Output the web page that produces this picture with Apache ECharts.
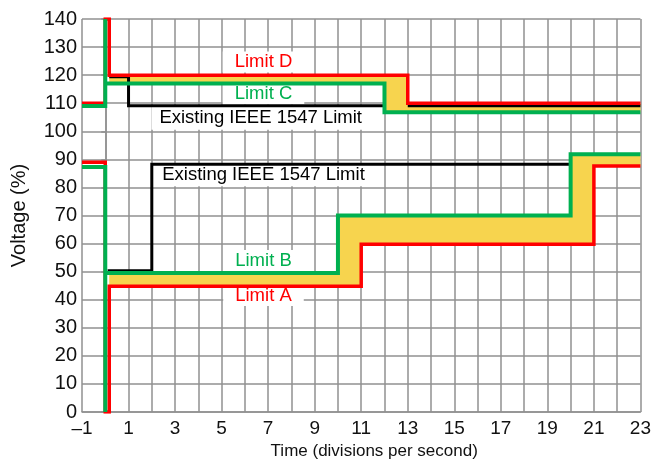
<!DOCTYPE html>
<html>
<head>
<meta charset="utf-8">
<script src="https://cdn.jsdelivr.net/npm/echarts@6/dist/echarts.min.js"></script>
<style>
  html, body { margin: 0; padding: 0; background: #fff; }
  #chart { width: 654px; height: 465px; }
</style>
</head>
<body>
<div id="chart"></div>
<script>
// step outlines, [time, voltage %]
const limitD = [[-1, 110], [0, 110], [0, 140], [0.17, 140], [0.17, 120], [13, 120], [13, 110], [23, 110]];
const limitC = [[-1, 109], [0, 109], [0, 140], [0, 117], [12, 117], [12, 106.8], [23, 106.8]];
const limitA = [[-1, 89], [0, 89], [0, 0], [0.17, 0], [0.17, 44.8], [11, 44.8], [11, 59.8], [21, 59.8], [21, 87.6], [23, 87.6]];
const limitB = [[-1, 87.3], [0, 87.3], [0, 0], [0, 49.5], [10, 49.5], [10, 70], [20, 70], [20, 91.8], [23, 91.8]];
// the old limit disappears under the shading between 12 and 13
const ieeeUpper = [[0.17, 119.4], [1, 119.4], [1, 109.1], [12, 109.1], [12.5, "-"], [13, 109.1], [23, 109.1]];
const ieeeLower = [[0.1, 50.3], [2, 50.3], [2, 88.3], [20, 88.3]];

// shaded bands (top edge, bottom edge)
const bandHighTop = [[0.17, 120], [13, 120], [13, 110], [23, 110]];
const bandHighBottom = [[0.17, 117], [12, 117], [12, 106.8], [23, 106.8]];
const bandLowTop = [[0.17, 49.5], [10, 49.5], [10, 70], [20, 70], [20, 91.8], [23, 91.8]];
const bandLowBottom = [[0.17, 44.8], [11, 44.8], [11, 59.8], [21, 59.8], [21, 87.6], [23, 87.6]];

const yTicks = [0, 140, 10];
const xTicks = [-1, 23, 1];

const RED = "#ff0000";
const GREEN = "#00b050";
const BLACK = "#000000";
const YELLOW = "#f7d44e";
const GRID = "#909090";
const FONT = "Liberation Sans";

const notes = [
  { text: "Limit D", at: [6.8, 124.7], color: RED, pad: [1, 12] },
  { text: "Limit C", at: [6.8, 113.3], color: GREEN, pad: [1, 12] },
  { text: "Existing IEEE 1547 Limit", at: [6.68, 104.6], color: BLACK, pad: [2, 8] },
  { text: "Existing IEEE 1547 Limit", at: [6.8, 84.5], color: BLACK, pad: [2, 8] },
  { text: "Limit B", at: [6.8, 54.0], color: GREEN, pad: [1, 12] },
  { text: "Limit A", at: [6.8, 41.5], color: RED, pad: [1, 12] },
];

function band(top, bottom) {
  return {
    type: "custom",
    z: 2,
    silent: true,
    data: [[0, 0]],
    renderItem: function (params, api) {
      const pts = top.concat(bottom.slice().reverse()).map((p) => api.coord(p));
      return { type: "polygon", shape: { points: pts }, style: { fill: YELLOW } };
    },
  };
}

function stepLine(data, color, width, z) {
  return {
    type: "line",
    data: data,
    z: z,
    showSymbol: false,
    silent: true,
    connectNulls: false,
    lineStyle: { color: color, width: width, join: "miter" },
  };
}

const chart = echarts.init(document.getElementById("chart"));
chart.setOption({
  animation: false,
  backgroundColor: "#fff",
  grid: { left: 82, right: 10, top: 19, bottom: 47 },
  xAxis: {
    type: "value",
    min: xTicks[0],
    max: xTicks[1],
    interval: xTicks[2],
    name: "Time (divisions per second)",
    nameLocation: "middle",
    nameGap: 31,
    nameTextStyle: { color: "#111", fontSize: 17, fontFamily: FONT, padding: [0, 0, 0, 26] },
    axisLine: { lineStyle: { color: GRID, width: 1.5 } },
    axisTick: { show: false },
    axisLabel: {
      color: "#111",
      fontSize: 19,
      fontFamily: FONT,
      margin: 7,
      formatter: (v) => (v % 2 !== 0 ? (v < 0 ? "\u2013" + Math.abs(v) : String(v)) : ""),
    },
    splitLine: { lineStyle: { color: GRID, width: 1.5 } },
  },
  yAxis: {
    type: "value",
    min: yTicks[0],
    max: yTicks[1],
    interval: yTicks[2],
    name: "Voltage (%)",
    nameLocation: "middle",
    nameRotate: 90,
    nameGap: 53,
    nameTextStyle: { color: "#111", fontSize: 20, fontFamily: FONT },
    axisLine: { show: true, lineStyle: { color: GRID, width: 1.5 } },
    axisTick: { show: true, length: 4, lineStyle: { color: GRID, width: 1.5 } },
    axisLabel: { color: "#111", fontSize: 20, fontFamily: FONT, margin: 5 },
    splitLine: { lineStyle: { color: GRID, width: 1.5 } },
  },
  series: [
    {
      // text boxes
      type: "custom",
      z: 1,
      silent: true,
      data: notes.map((n, i) => [n.at[0], n.at[1], i]),
      renderItem: function (params, api) {
        const n = notes[params.dataIndex];
        const p = api.coord([api.value(0), api.value(1)]);
        return {
          type: "text",
          x: p[0],
          y: p[1],
          style: {
            text: n.text,
            fill: n.color,
            font: "18.5px " + FONT,
            align: "center",
            verticalAlign: "middle",
            backgroundColor: "#fff",
            padding: n.pad,
          },
        };
      },
    },
    band(bandHighTop, bandHighBottom),
    band(bandLowTop, bandLowBottom),
    stepLine(ieeeUpper, BLACK, 3, 3),
    stepLine(ieeeLower, BLACK, 3, 3),
    stepLine(limitD, RED, 3.5, 4),
    stepLine(limitA, RED, 3.5, 4),
    stepLine(limitC, GREEN, 4, 5),
    stepLine(limitB, GREEN, 4, 5),
  ],
});
</script>
</body>
</html>
